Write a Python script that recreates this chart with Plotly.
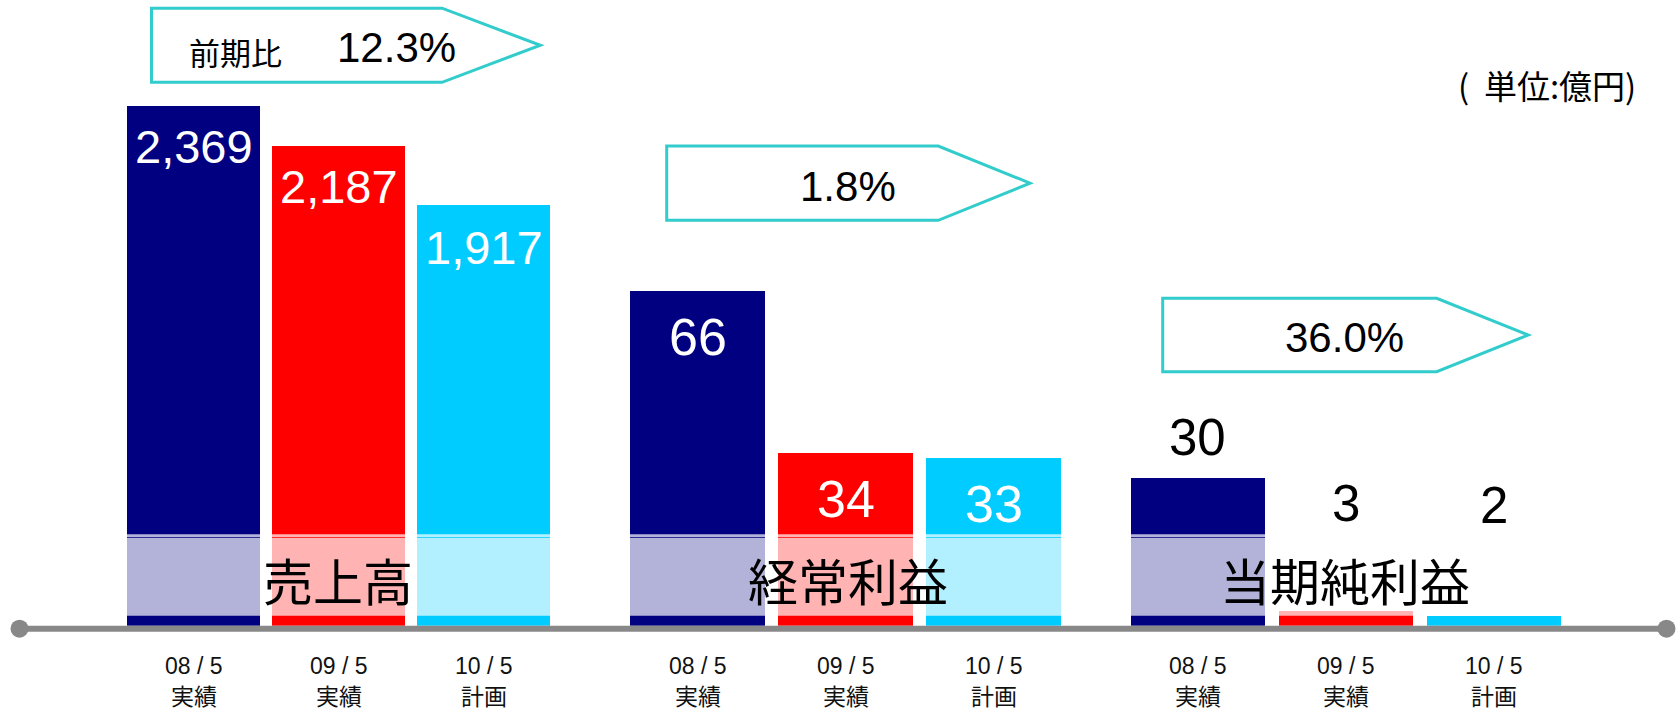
import plotly.graph_objects as go

# ---------------- data ----------------
period_dates = ["08 / 5", "09 / 5", "10 / 5"]
period_kinds = ["実績", "実績", "計画"]
groups = ["売上高", "経常利益", "当期純利益"]
sales = [2369, 2187, 1917]
ordinary = [66, 34, 33]
net = [30, 3, 2]
sales_labels = ["2,369", "2,187", "1,917"]
ordinary_labels = ["66", "34", "33"]
net_labels = ["30", "3", "2"]
yoy_labels = ["12.3%", "1.8%", "36.0%"]
yoy_prefix = "前期比"
unit_label = "(  単位:億円)"
bar_colors = ["#000080", "#FF0000", "#00CCFF"]

periods = [d + " " + k for d, k in zip(period_dates, period_kinds)]
series = [sales, ordinary, net]
series_labels = [sales_labels, ordinary_labels, net_labels]

# ---------------- layout / style ----------------
W, H = 1677, 712
BASE = 625.7                       # pixel y of bar baseline
PX_PER_UNIT = [0.2193, 5.074, 4.92]
XDOM_PX = [(121.0, 556.1), (623.4, 1068.1), (1123.6, 1567.6)]
BAR_W = [0.916, 0.911, 0.912]
LABEL_FONT = [47, 52, 51]
LABEL_COLOR = ["white", "white", "black"]
# label centre offset relative to bar top (negative = inside bar)
LABEL_SHIFT = [[-40.5, -40.7, -42], [-46, -46, -46], [41, None, None]]
FIXED_LABEL_Y = {(2, 1): 503, (2, 2): 505}
ARROWS = [  # left, notch, tip, top, bottom
    (151.5, 442, 540.4, 8.2, 82.3),
    (666.7, 938.3, 1030, 146, 220.3),
    (1162.7, 1436.7, 1528.3, 298.3, 371.7),
]
ARROW_TEXT_POS = [(396.7, 48), (847.8, 186.7), (1344, 337.7)]
GROUP_LABEL_POS = [(337.7, 578.5), (847.5, 578.5), (1345, 578.5)]
TICK_Y1, TICK_Y2 = 665.5, 695
TICK_F1, TICK_F2 = 23, 23

LAT = "Liberation Sans, Arial, Noto Sans CJK JP"
CJK = "Noto Sans CJK JP, Noto Sans CJK SC, sans-serif"


def xp(px):
    return px / W


def yp(py):
    return 1 - py / H


fig = go.Figure()
ydom = [yp(BASE), 1.0]

for g in range(3):
    sfx = "" if g == 0 else str(g + 1)
    fig.add_trace(go.Bar(
        x=periods, y=series[g],
        marker=dict(color=bar_colors, line=dict(width=0)),
        width=BAR_W[g],
        xaxis="x" + sfx, yaxis="y" + sfx,
        showlegend=False, hoverinfo="skip",
    ))
    ymax = BASE / PX_PER_UNIT[g]
    fig.layout["xaxis" + sfx] = dict(
        domain=[xp(XDOM_PX[g][0]), xp(XDOM_PX[g][1])],
        anchor="y" + sfx, type="category", range=[-0.5, 2.5],
        showline=False, showgrid=False, zeroline=False, ticks="",
        showticklabels=False,
    )
    fig.layout["yaxis" + sfx] = dict(
        domain=ydom, anchor="x" + sfx, range=[0, ymax],
        visible=False, showgrid=False, zeroline=False,
    )
    for i in range(3):
        # category (period) labels under each bar
        fig.add_annotation(x=periods[i], y=yp(TICK_Y1), xref="x" + sfx, yref="paper",
                           text=period_dates[i], showarrow=False,
                           xanchor="center", yanchor="middle", borderpad=0,
                           font=dict(family=LAT, size=TICK_F1, color="#111111"))
        fig.add_annotation(x=periods[i], y=yp(TICK_Y2), xref="x" + sfx, yref="paper",
                           text=period_kinds[i], showarrow=False,
                           xanchor="center", yanchor="middle", borderpad=0,
                           font=dict(family=CJK, size=TICK_F2, color="#111111"))
        # value labels
        v = series[g][i]
        top_px = BASE - v * PX_PER_UNIT[g]
        if (g, i) in FIXED_LABEL_Y:
            shift = top_px - FIXED_LABEL_Y[(g, i)]
        else:
            shift = LABEL_SHIFT[g][i]
        fig.add_annotation(
            x=periods[i], y=v, xref="x" + sfx, yref="y" + sfx,
            text=series_labels[g][i], showarrow=False,
            yanchor="middle", xanchor="center", yshift=shift,
            font=dict(family=LAT, size=LABEL_FONT[g], color=LABEL_COLOR[g]),
        )
    # translucent band over lower parts of bars
    x0, x1 = xp(XDOM_PX[g][0]), xp(XDOM_PX[g][1])
    for (a, b) in [(534.3, 537.0), (537.8, 615.7)]:
        fig.add_shape(type="rect", xref="paper", yref="paper",
                      x0=x0, x1=x1, y0=yp(b), y1=yp(a),
                      fillcolor="rgba(255,255,255,0.7)", line=dict(width=0),
                      layer="above")
    # group label
    gx, gy = GROUP_LABEL_POS[g]
    fig.add_annotation(x=xp(gx), y=yp(gy), xref="paper", yref="paper",
                       text=groups[g], showarrow=False,
                       xanchor="center", yanchor="middle",
                       font=dict(family=CJK, size=50, color="black"))
    # arrow shape
    l, n, t, tp, bt = ARROWS[g]
    mid = (tp + bt) / 2
    path = (f"M {xp(l)},{yp(tp)} L {xp(n)},{yp(tp)} L {xp(t)},{yp(mid)} "
            f"L {xp(n)},{yp(bt)} L {xp(l)},{yp(bt)} Z")
    fig.add_shape(type="path", path=path, xref="paper", yref="paper",
                  line=dict(color="#33CCCC", width=3),
                  fillcolor="rgba(255,255,255,0)", layer="above")
    ax, ay = ARROW_TEXT_POS[g]
    fig.add_annotation(x=xp(ax), y=yp(ay), xref="paper", yref="paper",
                       text=yoy_labels[g], showarrow=False,
                       xanchor="center", yanchor="middle",
                       font=dict(family=LAT, size=42, color="black"))

fig.add_annotation(x=xp(236), y=yp(51), xref="paper", yref="paper",
                   text=yoy_prefix, showarrow=False,
                   xanchor="center", yanchor="middle",
                   font=dict(family=CJK, size=31, color="black"))
fig.add_annotation(x=xp(1638), y=yp(85), xref="paper", yref="paper",
                   text=unit_label, showarrow=False,
                   xanchor="right", yanchor="middle",
                   font=dict(family=CJK, size=33, color="black"))

# baseline axis with end dots
AX_Y = 628.7
fig.add_shape(type="line", xref="paper", yref="paper",
              x0=xp(19.5), x1=xp(1666.5), y0=yp(AX_Y), y1=yp(AX_Y),
              line=dict(color="#888888", width=6), layer="above")
for cx in (19.5, 1666.5):
    fig.add_shape(type="circle", xref="paper", yref="paper",
                  x0=xp(cx - 9), x1=xp(cx + 9), y0=yp(AX_Y + 9), y1=yp(AX_Y - 9),
                  fillcolor="#888888", line=dict(width=0), layer="above")

fig.update_layout(
    width=W, height=H, margin=dict(l=0, r=0, t=0, b=0),
    paper_bgcolor="white", plot_bgcolor="rgba(0,0,0,0)",
    showlegend=False, bargap=0,
)

fig.write_html("out.html", post_script="document.body.style.margin='0';",
               config={"displayModeBar": False})
